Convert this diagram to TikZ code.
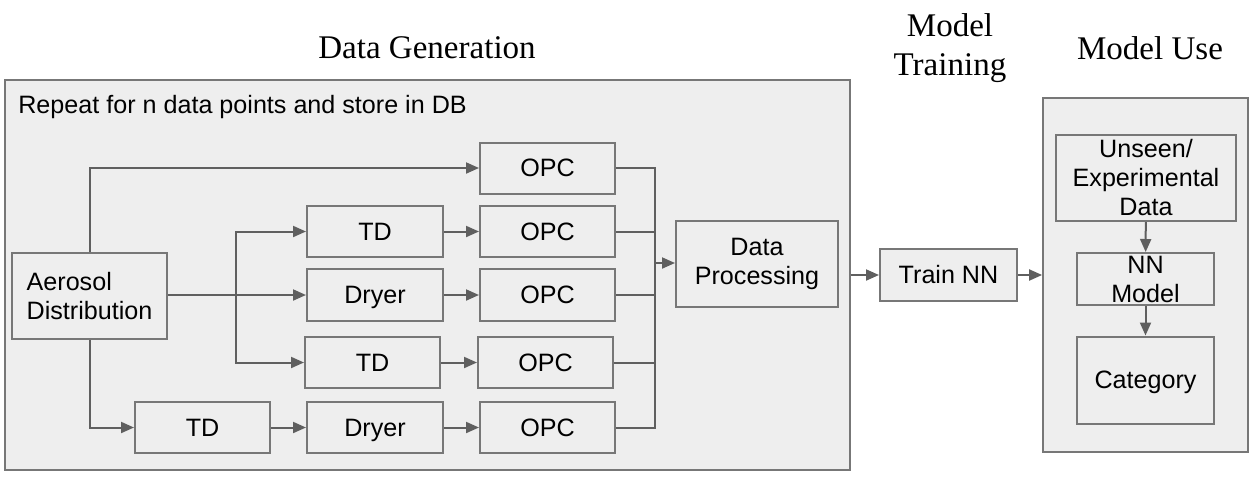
\documentclass[tikz,border=0pt]{standalone}
\usepackage{fontspec}
\newfontfamily\arialfont{Liberation Sans}
\newfontfamily\titlefont{Liberation Serif}
\usepackage{tikz}
\usetikzlibrary{arrows.meta}

\definecolor{boxfill}{HTML}{EEEEEE}
\definecolor{boxline}{HTML}{777777}
\definecolor{arrline}{HTML}{5F5F5F}

\tikzset{
  blk/.style = {draw=boxline, line width=0.4mm, fill=boxfill, inner sep=0pt,
                font=\arialfont\fontsize{14.3}{16.5}\selectfont, align=center},
  oneline/.style = {blk, text height=13.2pt, text depth=3pt},
  bigbox/.style = {draw=boxline, line width=0.35mm, fill=boxfill, inner sep=0pt},
  heading/.style = {font=\titlefont\fontsize{18.8}{22}\selectfont, align=center},
  arr/.style = {draw=arrline, line width=0.4mm, -{Triangle[length=2.6mm,width=2.2mm]}},
  ln/.style = {draw=arrline, line width=0.4mm}
}

\begin{document}
\begin{tikzpicture}[x=0.2mm, y=-0.2mm]
\useasboundingbox (0,0) rectangle (1257,478);

\node[bigbox, minimum width=169mm, minimum height=78mm] (datagen) at (427.5,275) {};
\node[bigbox, minimum width=41mm, minimum height=70.8mm] (modeluse) at (1145.5,275) {};

\node[heading] (titlegen) at (427,48) {Data Generation};
\node[heading] (titletrain) at (950,48) {Model\\Training};
\node[heading] (titleuse) at (1150,48) {Model Use};
\node[anchor=west, inner sep=0pt, font=\arialfont\fontsize{14.3}{16.5}\selectfont] (repeat) at (18,107)
  {Repeat for n data points and store in DB};

\node[blk, align=left, minimum width=31mm, minimum height=17.2mm] (aerosol) at (89.5,296) {Aerosol\\Distribution};

\node[oneline, minimum width=27mm, minimum height=10.2mm] (opc1) at (547.5,168) {OPC};
\node[oneline, minimum width=27.2mm, minimum height=10.2mm] (td1) at (375,231.5) {TD};
\node[oneline, minimum width=27mm, minimum height=10.2mm] (opc2) at (547.5,231.5) {OPC};
\node[oneline, minimum width=27.2mm, minimum height=10.4mm] (dry1) at (375,295) {Dryer};
\node[oneline, minimum width=27mm, minimum height=10.4mm] (opc3) at (547.5,295) {OPC};
\node[oneline, minimum width=27mm, minimum height=10.2mm] (td2) at (372.5,362.5) {TD};
\node[oneline, minimum width=27mm, minimum height=10.2mm] (opc4) at (545.5,362.5) {OPC};
\node[oneline, minimum width=27mm, minimum height=10.2mm] (td3) at (202.5,427.5) {TD};
\node[oneline, minimum width=27.2mm, minimum height=10.2mm] (dry2) at (375,427.5) {Dryer};
\node[oneline, minimum width=27mm, minimum height=10.2mm] (opc5) at (547.5,427.5) {OPC};

\node[blk, minimum width=32.4mm, minimum height=17.2mm] (dataproc) at (757,264) {Data\\Processing};
\node[oneline, minimum width=27.4mm, minimum height=10.4mm] (trainnn) at (948.5,275) {Train NN};

\node[blk, minimum width=36mm, minimum height=17.2mm] (unseen) at (1146,178) {Unseen/\\Experimental\\Data};
\node[blk, minimum width=27.4mm, minimum height=10.4mm] (nnmodel) at (1145.5,279) {NN\\Model};
\node[oneline, minimum width=27.4mm, minimum height=17.4mm] (category) at (1145.5,380) {Category};

\coordinate (split) at (236,295);
\coordinate (bus) at (655,263);

\draw[arr] (aerosol.north) |- (opc1.west);
\draw[arr] (aerosol.east |- split) -- (dry1.west);
\draw[arr] (split) |- (td1.west);
\draw[arr] (split) |- (td2.west);
\draw[arr] (aerosol.south) |- (td3.west);

\draw[arr] (td1) -- (opc2);
\draw[arr] (dry1) -- (opc3);
\draw[arr] (td2) -- (opc4);
\draw[arr] (td3) -- (dry2);
\draw[arr] (dry2) -- (opc5);

\draw[ln] (opc1.east) -| (bus);
\draw[ln] (opc2.east) -| (bus);
\draw[ln] (opc3.east) -| (bus);
\draw[ln] (opc4.east) -| (bus);
\draw[ln] (opc5.east) -| (bus);
\draw[arr] (bus) -- (dataproc.west |- bus);

\draw[arr] (datagen.east |- trainnn.west) -- (trainnn.west);
\draw[arr] (trainnn.east) -- (modeluse.west |- trainnn.east);

\draw[arr] (unseen) -- (nnmodel);
\draw[arr] (nnmodel) -- (category);
\end{tikzpicture}
\end{document}
